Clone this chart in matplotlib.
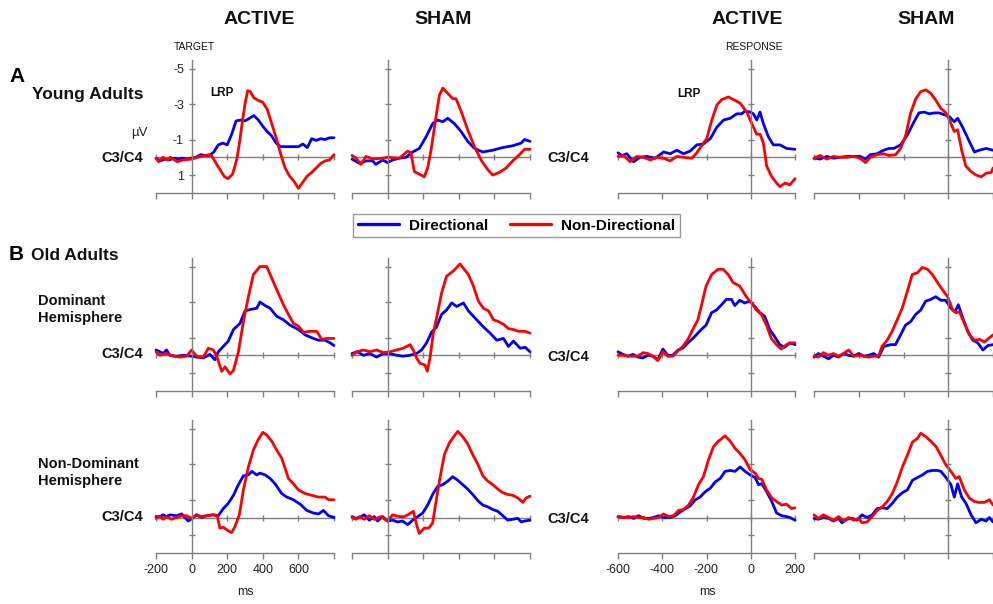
import matplotlib
matplotlib.use('Agg')
import matplotlib.pyplot as plt

plt.rcParams['font.family'] = ['Liberation Sans', 'DejaVu Sans']

# ---------------- data (ms, µV); negative is plotted upward ----------------
YOUNG_ACTIVE_TARGET_DIR = [(-200,0.05),(-175,0.2),(-150,0.1),(-125,0.15),(-100,0.05),(-75,0.1),(-50,0.05),(-25,0.1),(0,0.05),(25,0.0),(50,-0.15),(75,-0.1),(100,-0.1),(125,-0.3),(150,-0.7),(175,-0.8),(200,-0.7),(225,-1.3),(250,-2.05),(275,-2.1),(300,-2.05),(325,-2.2),(350,-2.35),(375,-2.1),(400,-1.75),(425,-1.45),(450,-1.2),(475,-0.8),(500,-0.6),(550,-0.6),(600,-0.6),(625,-0.75),(650,-0.55),(675,-1.05),(700,-0.95),(725,-1.05),(750,-1.0),(775,-1.1),(800,-1.1)]
YOUNG_ACTIVE_TARGET_NONDIR = [(-200,0.05),(-185,0.25),(-160,0.0),(-140,0.15),(-120,0.0),(-80,0.25),(-50,0.15),(0,0.1),(50,-0.05),(100,-0.15),(115,-0.05),(135,0.3),(160,0.7),(185,1.1),(205,1.2),(230,0.95),(245,0.45),(256,0.0),(270,-0.9),(285,-2.0),(300,-3.0),(315,-3.75),(330,-3.7),(350,-3.35),(375,-3.2),(400,-3.1),(425,-2.7),(450,-1.9),(475,-1.1),(500,-0.2),(525,0.6),(550,1.05),(575,1.35),(600,1.75),(625,1.4),(650,1.05),(675,0.85),(700,0.6),(725,0.35),(750,0.2),(775,0.15),(800,-0.15)]

YOUNG_SHAM_TARGET_DIR = [(-200,0.1),(-157,0.35),(-120,0.2),(-84,0.2),(-66,0.4),(-28,0.15),(0,0.3),(28,0.15),(66,0.05),(103,0.0),(141,-0.3),(178,-0.5),(216,-1.15),(253,-1.9),(281,-2.1),(310,-2.0),(338,-2.2),(375,-1.9),(413,-1.45),(450,-0.9),(488,-0.5),(535,-0.3),(591,-0.4),(647,-0.55),(703,-0.65),(750,-0.8),(769,-1.0),(800,-0.9)]
YOUNG_SHAM_TARGET_NONDIR = [(-200,-0.1),(-176,0.05),(-150,0.4),(-122,-0.05),(-84,0.1),(-28,0.05),(0,0.0),(66,0.05),(113,-0.35),(131,-0.25),(150,0.8),(178,0.95),(206,1.1),(225,0.6),(244,-0.4),(272,-2.3),(291,-3.5),(310,-3.9),(338,-3.6),(366,-3.3),(384,-3.3),(413,-2.6),(450,-1.55),(488,-0.6),(525,0.15),(563,0.7),(591,1.0),(628,0.85),(666,0.6),(703,0.2),(741,-0.15),(769,-0.45),(800,-0.45)]

YOUNG_ACTIVE_RESP_DIR = [(-600,-0.25),(-582,-0.1),(-560,-0.2),(-530,0.25),(-500,0.0),(-470,-0.05),(-432,0.05),(-394,-0.3),(-364,-0.2),(-334,-0.4),(-304,-0.2),(-274,-0.35),(-244,-0.7),(-214,-0.75),(-183,-1.05),(-153,-1.7),(-123,-2.1),(-93,-2.2),(-63,-2.45),(-41,-2.45),(-26,-2.6),(-3,-2.55),(12,-2.45),(27,-2.1),(42,-2.55),(57,-1.9),(80,-1.15),(102,-0.7),(132,-0.7),(162,-0.5),(200,-0.45)]
YOUNG_ACTIVE_RESP_NONDIR = [(-600,-0.05),(-575,-0.1),(-545,0.25),(-515,-0.05),(-485,0.0),(-454,0.15),(-424,0.0),(-394,0.05),(-364,0.2),(-334,-0.05),(-304,0.0),(-266,0.05),(-244,-0.25),(-214,-0.8),(-199,-1.05),(-176,-2.1),(-153,-2.95),(-131,-3.25),(-101,-3.4),(-78,-3.25),(-48,-3.05),(-18,-2.55),(5,-1.9),(27,-1.3),(42,-1.3),(57,-0.8),(72,0.5),(95,1.1),(117,1.45),(132,1.65),(155,1.45),(177,1.55),(200,1.2)]

YOUNG_SHAM_RESP_DIR = [(-600,0.05),(-573,0.1),(-543,-0.05),(-513,0.05),(-483,0.0),(-453,-0.05),(-423,-0.05),(-393,-0.05),(-370,0.1),(-348,-0.15),(-318,-0.2),(-288,-0.4),(-265,-0.5),(-243,-0.5),(-213,-0.7),(-183,-1.25),(-153,-2.0),(-131,-2.5),(-108,-2.55),(-85,-2.45),(-63,-2.5),(-40,-2.5),(-18,-2.4),(4,-2.3),(27,-2.0),(42,-2.2),(64,-1.7),(94,-0.9),(117,-0.3),(139,-0.4),(169,-0.5),(200,-0.4)]
YOUNG_SHAM_RESP_NONDIR = [(-600,0.05),(-573,-0.1),(-543,0.1),(-513,-0.05),(-483,0.0),(-453,0.0),(-423,-0.05),(-393,0.05),(-370,0.3),(-348,0.0),(-318,-0.15),(-288,-0.2),(-265,-0.1),(-235,-0.15),(-213,-0.5),(-190,-1.25),(-168,-2.5),(-145,-3.3),(-123,-3.7),(-100,-3.8),(-78,-3.6),(-55,-3.2),(-33,-2.75),(-10,-2.5),(12,-1.9),(27,-1.45),(42,-1.55),(60,-0.4),(79,0.5),(102,0.8),(124,1.0),(147,1.1),(169,0.9),(192,0.85),(200,0.6)]

OLD_DOM_ACTIVE_TARGET_DIR = [(-200,-0.3),(-178,-0.2),(-160,-0.1),(-141,-0.3),(-122,0.0),(-84,0.05),(-47,0.0),(0,0.05),(28,0.1),(66,0.15),(103,-0.05),(131,0.25),(150,-0.2),(178,-0.5),(206,-0.8),(235,-1.45),(272,-1.8),(300,-2.5),(338,-2.6),(366,-2.65),(384,-3.0),(413,-2.8),(441,-2.65),(478,-2.2),(516,-2.0),(553,-1.7),(600,-1.45),(638,-1.15),(684,-0.95),(713,-0.85),(750,-0.85),(778,-0.7),(800,-0.55)]
OLD_DOM_ACTIVE_TARGET_NONDIR = [(-200,-0.2),(-178,0.0),(-141,-0.1),(-103,0.05),(-66,0.1),(-28,0.05),(0,-0.3),(28,0.05),(47,0.1),(66,0.1),(94,-0.4),(122,-0.3),(141,0.05),(169,0.9),(188,0.65),(216,1.05),(235,0.85),(263,-0.2),(291,-1.9),(319,-3.3),(347,-4.55),(384,-5.0),(422,-5.0),(450,-4.35),(478,-3.7),(516,-2.85),(544,-2.3),(572,-1.8),(600,-1.65),(628,-1.3),(666,-1.35),(703,-1.35),(731,-0.9),(760,-0.95),(800,-0.95)]

OLD_DOM_SHAM_TARGET_DIR = [(-200,-0.1),(-172,-0.2),(-135,0.0),(-100,-0.1),(-62,0.1),(-24,-0.1),(13,-0.1),(51,0.0),(88,0.05),(126,0.0),(163,-0.1),(191,-0.3),(219,-0.7),(247,-1.3),(275,-1.6),(303,-2.3),(331,-2.55),(360,-2.95),(388,-2.75),(426,-2.95),(454,-2.5),(482,-2.2),(510,-1.9),(538,-1.6),(576,-1.25),(613,-0.85),(651,-0.95),(679,-0.5),(707,-0.8),(745,-0.4),(773,-0.45),(800,-0.2)]
OLD_DOM_SHAM_TARGET_NONDIR = [(-200,0.0),(-172,-0.2),(-135,-0.3),(-100,-0.2),(-62,-0.3),(-24,-0.15),(13,-0.2),(51,-0.3),(88,-0.4),(126,-0.6),(144,-0.3),(163,0.15),(182,0.45),(210,0.55),(223,0.9),(238,0.15),(257,-1.25),(279,-2.3),(303,-3.5),(331,-4.45),(369,-4.75),(407,-5.15),(426,-4.9),(454,-4.55),(482,-3.9),(510,-3.05),(538,-2.65),(567,-2.5),(595,-2.0),(623,-1.9),(651,-1.75),(679,-1.5),(707,-1.45),(735,-1.35),(773,-1.35),(800,-1.25)]

OLD_DOM_ACTIVE_RESP_DIR = [(-600,-0.2),(-577,-0.05),(-555,0.05),(-532,-0.05),(-510,0.1),(-487,0.15),(-465,0.0),(-442,0.05),(-420,0.25),(-397,-0.35),(-375,0.0),(-352,0.0),(-329,-0.3),(-307,-0.4),(-284,-0.7),(-254,-1.05),(-224,-1.45),(-202,-1.7),(-177,-2.4),(-155,-2.55),(-132,-2.85),(-110,-3.15),(-87,-3.15),(-72,-2.8),(-50,-3.1),(-27,-2.95),(-5,-3.05),(18,-2.75),(41,-2.4),(63,-2.2),(86,-1.45),(108,-1.05),(131,-0.6),(153,-0.45),(176,-0.7),(200,-0.6)]
OLD_DOM_ACTIVE_RESP_NONDIR = [(-600,0.0),(-577,0.0),(-555,0.05),(-532,0.05),(-510,0.05),(-487,-0.15),(-465,-0.1),(-442,0.05),(-420,0.3),(-397,-0.2),(-375,0.05),(-352,0.05),(-329,-0.25),(-307,-0.5),(-284,-0.9),(-262,-1.45),(-239,-2.0),(-224,-2.75),(-202,-3.9),(-177,-4.55),(-147,-4.85),(-125,-4.85),(-102,-4.55),(-80,-4.1),(-50,-3.9),(-20,-3.3),(3,-2.95),(26,-2.55),(48,-2.3),(71,-1.7),(93,-0.95),(116,-0.6),(138,-0.35),(161,-0.6),(183,-0.7),(200,-0.7)]

OLD_DOM_SHAM_RESP_DIR = [(-600,0.1),(-580,-0.1),(-558,0.05),(-535,0.2),(-513,0.0),(-490,0.1),(-468,-0.1),(-445,0.0),(-423,0.05),(-400,-0.1),(-378,0.05),(-356,0.0),(-333,-0.1),(-311,0.1),(-288,-0.5),(-258,-0.6),(-236,-0.6),(-213,-1.15),(-191,-1.7),(-168,-1.9),(-146,-2.3),(-123,-2.55),(-101,-3.05),(-78,-3.15),(-56,-3.3),(-33,-3.1),(-11,-3.1),(12,-2.65),(30,-2.45),(45,-2.85),(65,-2.1),(87,-1.35),(110,-0.85),(132,-0.7),(155,-0.3),(177,-0.55),(200,-0.6)]
OLD_DOM_SHAM_RESP_NONDIR = [(-600,0.05),(-580,0.1),(-558,-0.15),(-535,0.0),(-513,-0.1),(-490,0.05),(-468,-0.1),(-445,-0.3),(-423,0.05),(-400,0.0),(-378,0.05),(-356,0.1),(-333,0.05),(-311,0.05),(-296,-0.5),(-273,-0.85),(-251,-1.35),(-228,-2.0),(-206,-2.65),(-183,-3.6),(-161,-4.55),(-138,-4.65),(-116,-4.95),(-93,-4.85),(-71,-4.55),(-48,-4.1),(-26,-3.7),(-3,-3.3),(20,-2.55),(35,-2.4),(50,-2.45),(72,-1.8),(95,-1.15),(117,-0.85),(140,-0.9),(162,-0.75),(185,-1.0),(200,-1.15)]

OLD_NONDOM_ACTIVE_TARGET_DIR = [(-200,-0.05),(-178,-0.05),(-160,-0.15),(-141,-0.05),(-122,-0.15),(-84,-0.1),(-56,-0.2),(-19,0.2),(9,0.0),(28,-0.15),(56,0.0),(84,-0.1),(122,-0.15),(150,-0.1),(178,-0.5),(206,-0.8),(235,-1.25),(263,-1.85),(291,-2.35),(319,-2.4),(338,-2.6),(366,-2.4),(384,-2.5),(413,-2.4),(441,-2.2),(469,-1.9),(506,-1.35),(535,-1.15),(572,-1.0),(610,-0.75),(647,-0.4),(685,-0.25),(713,-0.2),(741,-0.4),(769,-0.1),(800,0.0)]
OLD_NONDOM_ACTIVE_TARGET_NONDIR = [(-200,0.05),(-178,-0.05),(-160,0.1),(-141,-0.05),(-113,0.1),(-84,0.0),(-56,-0.1),(-28,-0.1),(0,0.05),(28,-0.15),(56,-0.05),(84,-0.1),(122,-0.15),(144,-0.1),(159,0.6),(178,0.55),(206,0.75),(225,0.85),(244,0.5),(268,-0.15),(291,-1.55),(319,-2.85),(347,-3.8),(375,-4.4),(400,-4.8),(422,-4.65),(450,-4.3),(478,-3.8),(506,-3.35),(544,-2.2),(572,-1.9),(600,-1.55),(638,-1.35),(675,-1.25),(713,-1.15),(750,-1.15),(769,-1.0),(800,-1.0)]

OLD_NONDOM_SHAM_TARGET_DIR = [(-200,-0.05),(-178,0.05),(-160,0.0),(-131,-0.15),(-103,0.15),(-75,-0.05),(-56,0.2),(-28,-0.05),(0,0.2),(28,0.15),(56,0.25),(84,0.2),(113,0.4),(141,0.15),(169,-0.05),(197,-0.25),(225,-0.7),(253,-1.3),(281,-1.75),(310,-1.85),(338,-2.05),(366,-2.3),(394,-2.1),(422,-1.85),(450,-1.6),(478,-1.3),(507,-0.95),(535,-0.7),(563,-0.6),(591,-0.45),(619,-0.35),(647,-0.1),(675,0.15),(703,0.1),(732,0.05),(750,0.25),(769,0.2),(800,0.15)]
OLD_NONDOM_SHAM_TARGET_NONDIR = [(-200,0.0),(-178,0.1),(-160,-0.05),(-131,0.1),(-103,-0.1),(-75,0.1),(-38,-0.05),(0,0.2),(28,-0.15),(66,-0.05),(94,-0.05),(122,-0.2),(145,-0.35),(160,0.3),(178,0.9),(206,0.6),(231,0.6),(253,0.3),(272,-0.9),(291,-2.05),(319,-3.55),(347,-4.2),(375,-4.6),(394,-4.85),(422,-4.55),(450,-4.15),(478,-3.55),(507,-3.0),(535,-2.35),(563,-2.05),(591,-1.85),(619,-1.6),(647,-1.4),(675,-1.3),(703,-1.25),(732,-1.1),(760,-0.85),(778,-1.1),(800,-1.2)]

OLD_NONDOM_ACTIVE_RESP_DIR = [(-600,-0.05),(-574,0.0),(-552,-0.05),(-529,0.05),(-507,-0.1),(-484,0.05),(-462,0.05),(-439,0.0),(-417,-0.1),(-394,0.0),(-364,0.0),(-341,-0.1),(-319,-0.3),(-296,-0.5),(-274,-0.65),(-251,-1.0),(-229,-1.15),(-206,-1.45),(-183,-1.65),(-161,-2.0),(-138,-2.2),(-116,-2.6),(-93,-2.65),(-71,-2.6),(-48,-2.85),(-26,-2.6),(-3,-2.4),(20,-2.25),(35,-1.85),(50,-1.9),(72,-1.45),(95,-0.9),(117,-0.25),(140,-0.1),(162,-0.05),(177,0.0),(200,0.15)]
OLD_NONDOM_ACTIVE_RESP_NONDIR = [(-600,-0.05),(-574,0.0),(-552,0.0),(-529,-0.05),(-507,0.0),(-484,0.0),(-462,0.1),(-439,0.05),(-417,0.0),(-394,-0.2),(-371,-0.05),(-349,-0.1),(-326,-0.4),(-304,-0.45),(-281,-0.7),(-259,-1.15),(-236,-1.85),(-214,-2.3),(-191,-3.25),(-168,-4.0),(-146,-4.3),(-116,-4.6),(-93,-4.3),(-71,-3.9),(-48,-3.6),(-26,-3.25),(-3,-2.7),(20,-2.5),(35,-2.2),(50,-2.15),(72,-1.55),(95,-1.1),(117,-0.9),(140,-0.7),(162,-0.75),(184,-0.5),(200,-0.55)]

OLD_NONDOM_SHAM_RESP_DIR = [(-600,0.05),(-580,0.1),(-558,0.0),(-535,0.05),(-513,0.2),(-490,0.05),(-475,0.3),(-453,0.1),(-430,0.05),(-408,0.15),(-385,-0.15),(-363,0.0),(-340,-0.15),(-318,-0.5),(-295,-0.55),(-273,-0.5),(-250,-0.8),(-228,-1.15),(-205,-1.4),(-183,-1.55),(-160,-2.1),(-138,-2.25),(-115,-2.4),(-93,-2.6),(-70,-2.65),(-48,-2.65),(-33,-2.6),(-10,-2.25),(12,-1.85),(27,-1.15),(42,-1.9),(60,-1.15),(79,-0.8),(102,-0.15),(124,0.3),(147,0.1),(169,0.2),(184,0.0),(200,0.25)]
OLD_NONDOM_SHAM_RESP_NONDIR = [(-600,-0.15),(-580,0.05),(-558,-0.15),(-535,0.0),(-513,0.15),(-490,-0.05),(-468,0.2),(-445,0.0),(-423,0.15),(-400,0.05),(-385,0.3),(-363,0.25),(-340,-0.05),(-318,-0.4),(-295,-0.6),(-273,-0.9),(-250,-1.35),(-228,-2.0),(-205,-2.85),(-183,-3.5),(-160,-4.25),(-138,-4.45),(-123,-4.75),(-100,-4.55),(-78,-4.3),(-55,-4.0),(-33,-3.5),(-10,-2.95),(12,-2.6),(34,-2.2),(49,-2.3),(72,-1.55),(94,-1.1),(117,-0.9),(139,-0.85),(162,-0.85),(184,-1.0),(200,-0.7)]

SERIES_LABELS = ['Directional', 'Non-Directional']
COLUMN_TITLES = ['ACTIVE', 'SHAM', 'ACTIVE', 'SHAM']
TARGET_TICKS = [-200, 0, 200, 400, 600, 800]
TARGET_TICK_LABELS = ['-200', '0', '200', '400', '600', '']
RESP_TICKS = [-600, -400, -200, 0, 200]
RESP_TICK_LABELS = ['-600', '-400', '-200', '0', '200']
UV_TICKS = [-5, -3, -1, 1]
UV_TICK_LABELS = ['-5', '-3', '-1', '1']

PANELS = [
    [(YOUNG_ACTIVE_TARGET_DIR, YOUNG_ACTIVE_TARGET_NONDIR), (YOUNG_SHAM_TARGET_DIR, YOUNG_SHAM_TARGET_NONDIR),
     (YOUNG_ACTIVE_RESP_DIR, YOUNG_ACTIVE_RESP_NONDIR), (YOUNG_SHAM_RESP_DIR, YOUNG_SHAM_RESP_NONDIR)],
    [(OLD_DOM_ACTIVE_TARGET_DIR, OLD_DOM_ACTIVE_TARGET_NONDIR), (OLD_DOM_SHAM_TARGET_DIR, OLD_DOM_SHAM_TARGET_NONDIR),
     (OLD_DOM_ACTIVE_RESP_DIR, OLD_DOM_ACTIVE_RESP_NONDIR), (OLD_DOM_SHAM_RESP_DIR, OLD_DOM_SHAM_RESP_NONDIR)],
    [(OLD_NONDOM_ACTIVE_TARGET_DIR, OLD_NONDOM_ACTIVE_TARGET_NONDIR), (OLD_NONDOM_SHAM_TARGET_DIR, OLD_NONDOM_SHAM_TARGET_NONDIR),
     (OLD_NONDOM_ACTIVE_RESP_DIR, OLD_NONDOM_ACTIVE_RESP_NONDIR), (OLD_NONDOM_SHAM_RESP_DIR, OLD_NONDOM_SHAM_RESP_NONDIR)],
]

# ---------------- layout ----------------
W, H = 993, 604
fig = plt.figure(figsize=(W / 100, H / 100), dpi=100)

BLUE = '#0000ff'
RED = '#ff0000'
AXC = '#7f7f7f'
Y_BOTTOM, Y_TOP = 2.0, -5.5
PX_PER_UV = 17.75
COL_PX = [(156, 334), (352, 530), (618, 795), (814, 993)]
ROW_ZERO_PX = [157.3, 355.3, 517.5]


def ftext(x, y, s, **kw):
    fig.text(x / W, 1 - y / H, s, **kw)


legend_handles = None
for r in range(3):
    for c in range(4):
        x0, x1 = COL_PX[c]
        z = ROW_ZERO_PX[r]
        top = z + Y_TOP * PX_PER_UV
        bot = z + Y_BOTTOM * PX_PER_UV
        ax = fig.add_axes([x0 / W, 1 - bot / H, (x1 - x0) / W, (bot - top) / H])
        ax.patch.set_alpha(0)
        is_target = c < 2
        ax.set_xlim((-200, 800) if is_target else (-600, 200))
        ax.set_ylim(Y_BOTTOM, Y_TOP)
        for s in ('top', 'right'):
            ax.spines[s].set_visible(False)
        ax.spines['left'].set_position(('data', 0))
        for s in ('left', 'bottom'):
            ax.spines[s].set_color(AXC)
            ax.spines[s].set_linewidth(1.0)
        # y ticks on the vertical axis at time zero
        ax.set_yticks(UV_TICKS)
        ax.set_yticklabels(UV_TICK_LABELS if (r == 0 and c == 0) else [''] * len(UV_TICKS))
        ax.tick_params(axis='y', direction='inout', length=5, width=1.0, color=AXC,
                       labelsize=9, labelcolor='#222222', pad=3)
        # x ticks on the bottom axis
        ticks = TARGET_TICKS if is_target else RESP_TICKS
        labels = TARGET_TICK_LABELS if is_target else RESP_TICK_LABELS
        ax.set_xticks(ticks)
        show_x = (r == 2 and c in (0, 2))
        ax.set_xticklabels(labels if show_x else [''] * len(ticks))
        ax.tick_params(axis='x', direction='out', length=4, width=1.0, color=AXC,
                       labelsize=9, labelcolor='#222222', pad=4)
        # zero (baseline) line with its own ticks
        zero_frac = (Y_BOTTOM - 0) / (Y_BOTTOM - Y_TOP)
        sec = ax.secondary_xaxis(zero_frac)
        sec.set_xticks(ticks)
        sec.set_xticklabels([''] * len(ticks))
        sec.tick_params(direction='inout', length=5, width=1.0, color=AXC)
        for sp in sec.spines.values():
            sp.set_color(AXC)
            sp.set_linewidth(1.0)

        d, n = PANELS[r][c]
        lb, = ax.plot([p[0] for p in d], [p[1] for p in d], color=BLUE, lw=2.0,
                      solid_joinstyle='round', solid_capstyle='round',
                      label=SERIES_LABELS[0], clip_on=False)
        lr, = ax.plot([p[0] for p in n], [p[1] for p in n], color=RED, lw=2.0,
                      solid_joinstyle='round', solid_capstyle='round',
                      label=SERIES_LABELS[1], clip_on=False)
        if legend_handles is None:
            legend_handles = [lb, lr]

# ---------------- texts ----------------
title_kw = dict(fontsize=14, fontweight='bold', ha='center', va='center', color='#111111')
for x, t in zip([259, 443, 747, 926], COLUMN_TITLES):
    ftext(x, 19, t, **title_kw)

ftext(194.5, 47.5, 'TARGET', fontsize=7.5, ha='center', va='center', color='#111111')
ftext(753.5, 47.5, 'RESPONSE', fontsize=7.5, ha='center', va='center', color='#111111')

ftext(9, 77, 'A', fontsize=15, fontweight='bold', ha='left', va='center', color='#000000')
ftext(32, 95, 'Young Adults', fontsize=12.5, fontweight='bold', ha='left', va='center', color='#111111')
ftext(9, 255, 'B', fontsize=15, fontweight='bold', ha='left', va='center', color='#000000')
ftext(31, 255, 'Old Adults', fontsize=12.5, fontweight='bold', ha='left', va='center', color='#111111')

lab_kw = dict(fontsize=10.5, fontweight='bold', ha='left', va='center', color='#111111')
ftext(38, 301, 'Dominant', **lab_kw)
ftext(38, 318, 'Hemisphere', **lab_kw)
ftext(38, 464, 'Non-Dominant', **lab_kw)
ftext(38, 481, 'Hemisphere', **lab_kw)

c_kw = dict(fontsize=10.5, fontweight='bold', ha='right', va='center', color='#111111')
ftext(143, 158, 'C3/C4', **c_kw)
ftext(589, 158, 'C3/C4', **c_kw)
ftext(143, 354, 'C3/C4', **c_kw)
ftext(589, 357, 'C3/C4', **c_kw)
ftext(143, 517, 'C3/C4', **c_kw)
ftext(589, 519, 'C3/C4', **c_kw)

ftext(139, 133, 'µV', fontsize=9.5, ha='center', va='center', color='#222222')
ftext(222, 93, 'LRP', fontsize=8.5, fontweight='bold', ha='center', va='center', color='#111111')
ftext(689, 94, 'LRP', fontsize=8.5, fontweight='bold', ha='center', va='center', color='#111111')
ftext(245, 592, 'ms', fontsize=9, ha='center', va='center', color='#222222')
ftext(707, 592, 'ms', fontsize=9, ha='center', va='center', color='#222222')

leg = fig.legend(handles=legend_handles, labels=SERIES_LABELS, ncol=2, loc='center',
                 bbox_to_anchor=(516.5 / W, 1 - 225.5 / H), frameon=True, fancybox=False,
                 edgecolor='#808080', prop=dict(weight='bold', size=11),
                 handlelength=2.7, handletextpad=0.65, columnspacing=1.4, borderpad=0.3,
                 borderaxespad=0)
leg.get_frame().set_linewidth(1.0)
for line in leg.get_lines():
    line.set_linewidth(2.4)

fig.savefig('out.png', dpi=100)
